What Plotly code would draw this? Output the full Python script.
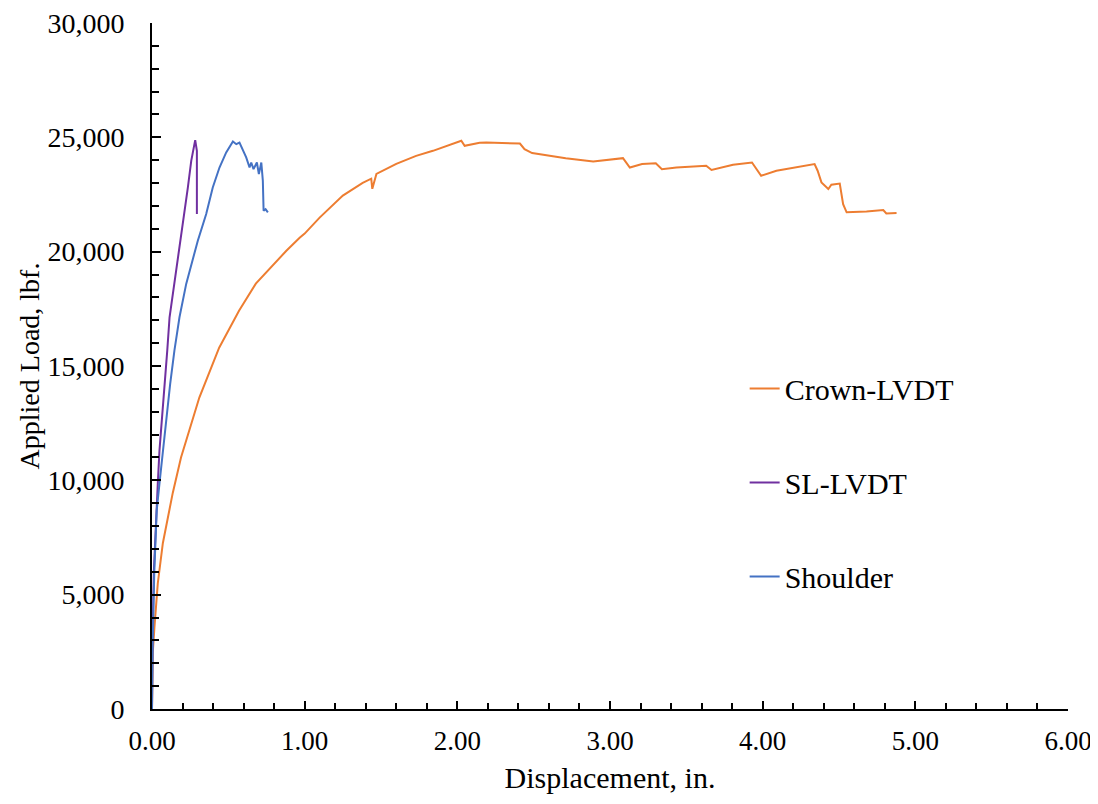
import plotly.graph_objects as go

# Crown-LVDT
crown_x = [0.0, 0.002, 0.005, 0.016, 0.038, 0.071, 0.115, 0.136, 0.19, 0.31, 0.44, 0.57, 0.68, 0.79,
           0.836, 0.88, 0.967, 1.0, 1.098, 1.25, 1.38, 1.436, 1.443, 1.47, 1.6, 1.73, 1.84, 1.88,
           2.026, 2.048, 2.146, 2.19, 2.41, 2.44, 2.49, 2.71, 2.89, 3.085, 3.13, 3.21, 3.30, 3.34, 3.435,
           3.63, 3.665, 3.806, 3.93, 3.99, 4.09, 4.34, 4.36, 4.385, 4.43, 4.45, 4.505, 4.527, 4.55, 4.68,
           4.79, 4.81, 4.877]
crown_y = [0, 1200, 2450, 3580, 5500, 7250, 8800, 9450, 11000, 13620, 15800, 17420, 18600, 19400,
           19700, 20040, 20610, 20790, 21490, 22450, 23010, 23190, 22750, 23400, 23840, 24190, 24410, 24500,
           24850, 24630, 24760, 24770, 24730, 24480, 24310, 24090, 23940, 24090, 23680, 23830, 23870, 23610, 23680,
           23760, 23570, 23800, 23900, 23320, 23540, 23830, 23540, 23030, 22740, 22930, 22980, 22080, 21720, 21760,
           21820, 21670, 21690]

# SL-LVDT
sl_x = [0.0, 0.003, 0.012, 0.028, 0.038, 0.049, 0.067, 0.082, 0.1, 0.115, 0.147, 0.18, 0.213, 0.235,
        0.257, 0.279, 0.283, 0.294, 0.294]
sl_y = [0, 3000, 6000, 8830, 9870, 11310, 12760, 14230, 15680, 17130, 18590, 20300, 21790, 22810,
        23970, 24850, 24880, 24410, 21650]

# Shoulder
sh_x = [0.0, 0.005, 0.015, 0.031, 0.049, 0.071, 0.093, 0.119, 0.147, 0.18, 0.224, 0.279, 0.30, 0.355,
        0.398, 0.442, 0.486, 0.53, 0.552, 0.573, 0.595, 0.617, 0.639, 0.65, 0.665, 0.687, 0.7, 0.716,
        0.726, 0.731, 0.744, 0.759]
sh_y = [0, 3000, 6000, 8690, 9870, 11310, 12760, 14220, 15680, 17130, 18590, 20040, 20480, 21650,
        22810, 23680, 24340, 24820, 24700, 24770, 24480, 24120, 23680, 23900, 23610, 23900, 23390, 23900,
        23100, 21790, 21860, 21720]

names = ['Crown-LVDT', 'SL-LVDT', 'Shoulder']
colors = ['#ED7D31', '#7030A0', '#4472C4']

FONT = 'Liberation Serif, Times New Roman, serif'

fig = go.Figure()
for i, (xs, ys) in enumerate([(crown_x, crown_y), (sl_x, sl_y), (sh_x, sh_y)]):
    fig.add_trace(go.Scatter(x=xs, y=ys, mode='lines', name=names[i], legendgroup=names[i],
                             line=dict(color=colors[i], width=2)))

# page body adds an 8px offset, margins are shifted to make up for it
fig.update_layout(
    width=1098, height=804,
    margin=dict(l=144, r=38, t=15, b=103),
    paper_bgcolor='white', plot_bgcolor='white',
    font=dict(family=FONT, size=28, color='black'),
    showlegend=True,
    legend=dict(x=0.647, y=0.505, xanchor='left', yanchor='top',
                traceorder='grouped', tracegroupgap=52,
                font=dict(family=FONT, size=30, color='black'),
                bgcolor='rgba(0,0,0,0)'),
)

fig.update_xaxes(
    range=[0, 6], dtick=1, tickformat='.2f', automargin=False, ticklabeloverflow='allow',
    tickfont=dict(size=27),
    showline=True, linecolor='black', linewidth=2, mirror=False,
    showgrid=False, zeroline=False,
    ticks='inside', ticklen=8, tickwidth=2, tickcolor='black',
    minor=dict(dtick=0.2, ticks='inside', ticklen=6, tickwidth=2, tickcolor='black', showgrid=False),
    ticklabelstandoff=7,
    title=dict(text='Displacement, in.', font=dict(size=30), standoff=12),
)
fig.update_yaxes(
    range=[0, 30000], dtick=5000, tickformat=',d', automargin=False, ticklabeloverflow='allow',
    showline=True, linecolor='black', linewidth=2, mirror=False,
    showgrid=False, zeroline=False,
    ticks='inside', ticklen=9, tickwidth=2, tickcolor='black',
    minor=dict(dtick=1000, ticks='inside', ticklen=7, tickwidth=2, tickcolor='black', showgrid=False),
    ticklabelstandoff=20,
    title=dict(text='Applied Load, lbf.', font=dict(size=28), standoff=0),
)

fig.write_html("out.html")
